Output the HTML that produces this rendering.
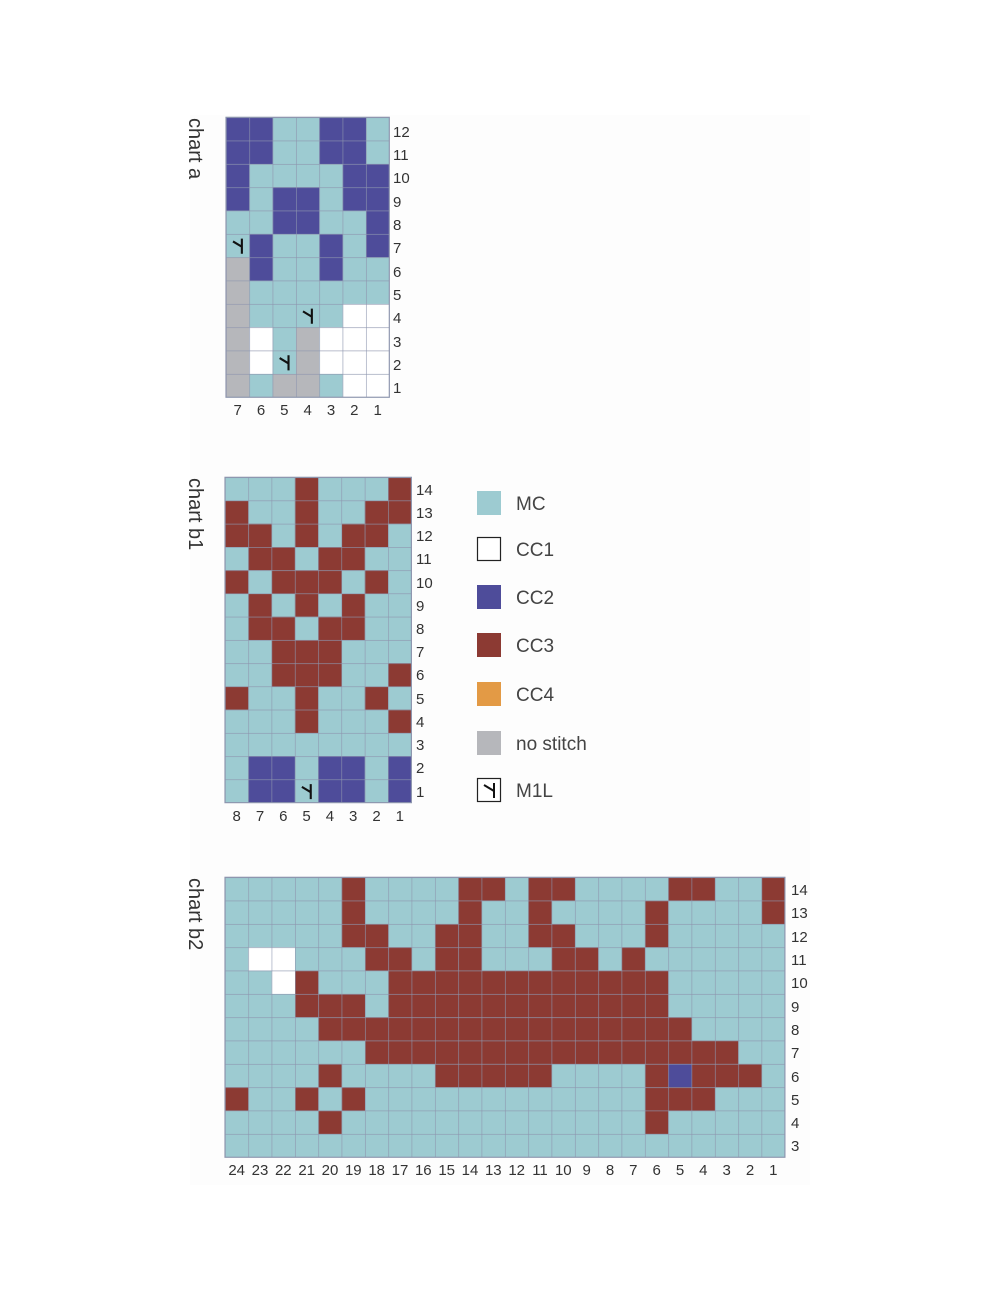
<!DOCTYPE html>
<html><head><meta charset="utf-8"><style>
html,body{margin:0;padding:0;background:#fff;}
svg{display:block;}
text{font-family:"Liberation Sans",sans-serif;fill:#333;}
</style></head><body>
<svg width="999" height="1292" viewBox="0 0 999 1292" xmlns="http://www.w3.org/2000/svg">
<defs>
<pattern id="g" patternUnits="userSpaceOnUse" width="1" height="1"><path d="M0 0H1M0 0V1" stroke="#8d95ae" stroke-width="0.05" fill="none"/></pattern>
<g id="m"><rect x="0" y="0" width="1" height="1" fill="#9dcbd1"/><path d="M0.68 0.2V0.85M0.3 0.32L0.68 0.55" stroke="#111" stroke-width="0.09" fill="none"/></g>
</defs>
<rect x="190" y="115" width="620" height="1070" fill="#fdfdfd"/>

<!-- chart a -->
<text transform="translate(189,118) rotate(90)" font-size="20">chart a</text>
<g transform="translate(226,117.3) scale(23.33)">
<rect width="7" height="12" fill="#9dcbd1"/>
<g fill="#4e4c9a">
<rect x="0" y="0" width="2" height="2"/><rect x="4" y="0" width="2" height="2"/>
<rect x="0" y="2" width="1" height="2"/><rect x="5" y="2" width="2" height="2"/>
<rect x="2" y="3" width="2" height="2"/><rect x="6" y="4" width="1" height="2"/>
<rect x="1" y="5" width="1" height="2"/><rect x="4" y="5" width="1" height="2"/>
</g>
<g fill="#b6b7bb">
<rect x="0" y="6" width="1" height="6"/><rect x="3" y="9" width="1" height="3"/><rect x="2" y="11" width="1" height="1"/>
</g>
<g fill="#fff">
<rect x="5" y="8" width="2" height="4"/><rect x="1" y="9" width="1" height="2"/><rect x="4" y="9" width="1" height="2"/>
</g>
<use href="#m" x="0" y="5"/><use href="#m" x="3" y="8"/><use href="#m" x="2" y="10"/>
<rect width="7" height="12" fill="url(#g)"/>
<rect width="7" height="12" fill="none" stroke="#8d95ae" stroke-width="0.05"/>
</g>
<g font-size="15">
<text x="393" y="137">12</text><text x="393" y="160">11</text><text x="393" y="183">10</text><text x="393" y="207">9</text><text x="393" y="230">8</text><text x="393" y="253">7</text><text x="393" y="277">6</text><text x="393" y="300">5</text><text x="393" y="323">4</text><text x="393" y="347">3</text><text x="393" y="370">2</text><text x="393" y="393">1</text>
</g>
<g font-size="15" text-anchor="middle">
<text x="237.7" y="415">7</text><text x="261" y="415">6</text><text x="284.3" y="415">5</text><text x="307.7" y="415">4</text><text x="331" y="415">3</text><text x="354.3" y="415">2</text><text x="377.7" y="415">1</text>
</g>

<!-- chart b1 -->
<text transform="translate(189,478) rotate(90)" font-size="20">chart b1</text>
<g transform="translate(225,477.3) scale(23.3,23.24)">
<rect width="8" height="14" fill="#9dcbd1"/>
<g fill="#8c3a33">
<rect x="3" y="0" width="1" height="1"/><rect x="7" y="0" width="1" height="2"/>
<rect x="0" y="1" width="1" height="2"/><rect x="3" y="1" width="1" height="2"/><rect x="6" y="1" width="1" height="2"/>
<rect x="1" y="2" width="1" height="2"/><rect x="5" y="2" width="1" height="2"/>
<rect x="2" y="3" width="1" height="1"/><rect x="4" y="3" width="1" height="1"/>
<rect x="0" y="4" width="1" height="1"/><rect x="2" y="4" width="3" height="1"/><rect x="6" y="4" width="1" height="1"/>
<rect x="1" y="5" width="1" height="2"/><rect x="3" y="5" width="1" height="1"/><rect x="5" y="5" width="1" height="2"/>
<rect x="2" y="6" width="1" height="1"/><rect x="4" y="6" width="1" height="1"/>
<rect x="2" y="7" width="3" height="2"/><rect x="7" y="8" width="1" height="1"/>
<rect x="0" y="9" width="1" height="1"/><rect x="3" y="9" width="1" height="2"/><rect x="6" y="9" width="1" height="1"/>
<rect x="7" y="10" width="1" height="1"/>
</g>
<g fill="#4e4c9a">
<rect x="1" y="12" width="2" height="2"/><rect x="4" y="12" width="2" height="2"/><rect x="7" y="12" width="1" height="2"/>
</g>
<use href="#m" x="3" y="13"/>
<rect width="8" height="14" fill="url(#g)"/>
<rect width="8" height="14" fill="none" stroke="#8d95ae" stroke-width="0.05"/>
</g>
<g font-size="15">
<text x="416" y="495">14</text><text x="416" y="518">13</text><text x="416" y="541">12</text><text x="416" y="564">11</text><text x="416" y="588">10</text><text x="416" y="611">9</text><text x="416" y="634">8</text><text x="416" y="657">7</text><text x="416" y="680">6</text><text x="416" y="704">5</text><text x="416" y="727">4</text><text x="416" y="750">3</text><text x="416" y="773">2</text><text x="416" y="797">1</text>
</g>
<g font-size="15" text-anchor="middle">
<text x="236.7" y="821">8</text><text x="260" y="821">7</text><text x="283.3" y="821">6</text><text x="306.6" y="821">5</text><text x="329.9" y="821">4</text><text x="353.2" y="821">3</text><text x="376.5" y="821">2</text><text x="399.8" y="821">1</text>
</g>

<!-- legend -->
<rect x="477" y="491" width="24" height="24" fill="#9dcbd1"/>
<rect x="477.5" y="537.5" width="23" height="23" fill="#fff" stroke="#222" stroke-width="1.2"/>
<rect x="477" y="585" width="24" height="24" fill="#4e4c9a"/>
<rect x="477" y="633" width="24" height="24" fill="#8c3a33"/>
<rect x="477" y="682" width="24" height="24" fill="#e39a45"/>
<rect x="477" y="731" width="24" height="24" fill="#b6b7bb"/>
<rect x="477.5" y="778.5" width="23" height="23" fill="#fff" stroke="#222" stroke-width="1.2"/>
<path d="M494 783V798M484 785L494 791" stroke="#111" stroke-width="2" fill="none"/>
<g font-size="19" fill="#444">
<text x="516" y="510" style="fill:#444">MC</text>
<text x="516" y="556" style="fill:#444">CC1</text>
<text x="516" y="604" style="fill:#444">CC2</text>
<text x="516" y="652" style="fill:#444">CC3</text>
<text x="516" y="701" style="fill:#444">CC4</text>
<text x="516" y="750" style="fill:#444">no stitch</text>
<text x="516" y="797" style="fill:#444">M1L</text>
</g>

<!-- chart b2 -->
<text transform="translate(189,878) rotate(90)" font-size="20">chart b2</text>
<g transform="translate(225,877.3) scale(23.33)">
<rect width="24" height="12" fill="#9dcbd1"/>
<g fill="#8c3a33">
<rect x="5" y="0" width="1" height="3"/><rect x="10" y="0" width="2" height="1"/><rect x="13" y="0" width="2" height="1"/><rect x="19" y="0" width="2" height="1"/><rect x="23" y="0" width="1" height="2"/>
<rect x="10" y="1" width="1" height="3"/><rect x="13" y="1" width="1" height="2"/><rect x="18" y="1" width="1" height="2"/>
<rect x="6" y="2" width="1" height="2"/><rect x="9" y="2" width="1" height="2"/><rect x="14" y="2" width="1" height="2"/>
<rect x="7" y="3" width="1" height="1"/><rect x="15" y="3" width="1" height="1"/><rect x="17" y="3" width="1" height="1"/>
<rect x="3" y="4" width="1" height="2"/><rect x="7" y="4" width="12" height="2"/>
<rect x="4" y="5" width="2" height="1"/>
<rect x="4" y="6" width="16" height="1"/>
<rect x="6" y="7" width="16" height="1"/>
<rect x="4" y="8" width="1" height="1"/><rect x="9" y="8" width="5" height="1"/><rect x="18" y="8" width="5" height="1"/>
<rect x="0" y="9" width="1" height="1"/><rect x="3" y="9" width="1" height="1"/><rect x="5" y="9" width="1" height="1"/><rect x="18" y="9" width="3" height="1"/>
<rect x="4" y="10" width="1" height="1"/><rect x="18" y="10" width="1" height="1"/>
</g>
<rect x="19" y="8" width="1" height="1" fill="#4e4c9a"/>
<g fill="#fff"><rect x="1" y="3" width="2" height="1"/><rect x="2" y="4" width="1" height="1"/></g>
<rect width="24" height="12" fill="url(#g)"/>
<rect width="24" height="12" fill="none" stroke="#8d95ae" stroke-width="0.05"/>
</g>
<g font-size="15">
<text x="791" y="895">14</text><text x="791" y="918">13</text><text x="791" y="942">12</text><text x="791" y="965">11</text><text x="791" y="988">10</text><text x="791" y="1012">9</text><text x="791" y="1035">8</text><text x="791" y="1058">7</text><text x="791" y="1082">6</text><text x="791" y="1105">5</text><text x="791" y="1128">4</text><text x="791" y="1151">3</text>
</g>
<g font-size="15" text-anchor="middle">
<text x="236.7" y="1175">24</text><text x="260" y="1175">23</text><text x="283.3" y="1175">22</text><text x="306.7" y="1175">21</text><text x="330" y="1175">20</text><text x="353.3" y="1175">19</text><text x="376.7" y="1175">18</text><text x="400" y="1175">17</text><text x="423.3" y="1175">16</text><text x="446.7" y="1175">15</text><text x="470" y="1175">14</text><text x="493.3" y="1175">13</text><text x="516.7" y="1175">12</text><text x="540" y="1175">11</text><text x="563.3" y="1175">10</text><text x="586.7" y="1175">9</text><text x="610" y="1175">8</text><text x="633.3" y="1175">7</text><text x="656.7" y="1175">6</text><text x="680" y="1175">5</text><text x="703.3" y="1175">4</text><text x="726.7" y="1175">3</text><text x="750" y="1175">2</text><text x="773.3" y="1175">1</text>
</g>
</svg>
</body></html>
